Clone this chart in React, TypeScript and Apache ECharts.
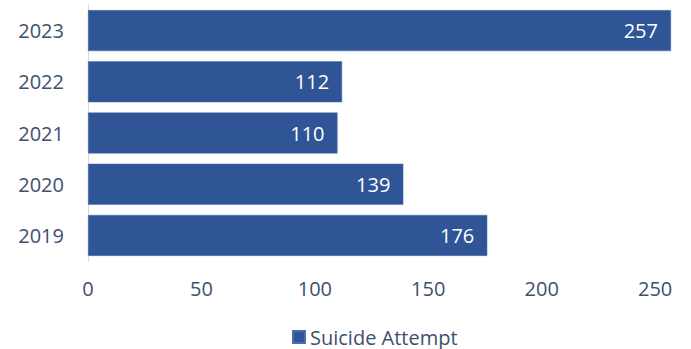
import React, { useEffect, useRef } from "react";
import * as echarts from "echarts";

const categories = ["2019", "2020", "2021", "2022", "2023"];
const values = [176, 139, 110, 112, 257];
const seriesName = "Suicide Attempt";
const xTicks = [0, 50, 100, 150, 200, 250];

const FONT = "'Open Sans', 'Noto Sans', sans-serif";
const TEXT = "#3f4f6d";
const BAR = "#2f5597";

export default function App() {
  const ref = useRef<HTMLDivElement>(null);
  useEffect(() => {
    if (!ref.current) return;
    const chart = echarts.init(ref.current, undefined, { renderer: "svg" });
    chart.setOption({
      animation: false,
      grid: { left: 88, right: 20, top: 5, height: 256 },
      legend: {
        data: [seriesName],
        left: 287,
        top: 322,
        icon: "rect",
        itemWidth: 12,
        itemHeight: 12,
        itemGap: 6,
        textStyle: { color: TEXT, fontSize: 20, fontFamily: FONT },
      },
      xAxis: {
        type: "value",
        min: 0,
        max: 257,
        interval: 50,
        axisLine: { show: false },
        axisTick: { show: false },
        splitLine: { show: false },
        axisLabel: {
          color: TEXT,
          fontSize: 20,
          fontFamily: FONT,
          margin: 17,
          showMaxLabel: false,
          formatter: (v: number) => (xTicks.includes(v) ? String(v) : ""),
        },
      },
      yAxis: {
        type: "category",
        data: categories,
        axisLine: { show: true, lineStyle: { color: "#d9d9d9", width: 1 } },
        axisTick: { show: false },
        axisLabel: { color: TEXT, fontSize: 20, fontFamily: FONT, margin: 24 },
      },
      series: [
        {
          name: seriesName,
          type: "bar",
          data: values,
          barCategoryGap: "20%",
          itemStyle: { color: BAR, borderColor: "#4a6fb0", borderWidth: 0.5 },
          label: {
            show: true,
            position: "insideRight",
            distance: 13,
            color: "#ffffff",
            fontSize: 20,
            fontFamily: FONT,
          },
        },
      ],
    });
    return () => chart.dispose();
  }, []);
  return (
    <div
      ref={ref}
      style={{ position: "fixed", left: 0, top: 0, width: 691, height: 349, background: "#fff" }}
    />
  );
}
